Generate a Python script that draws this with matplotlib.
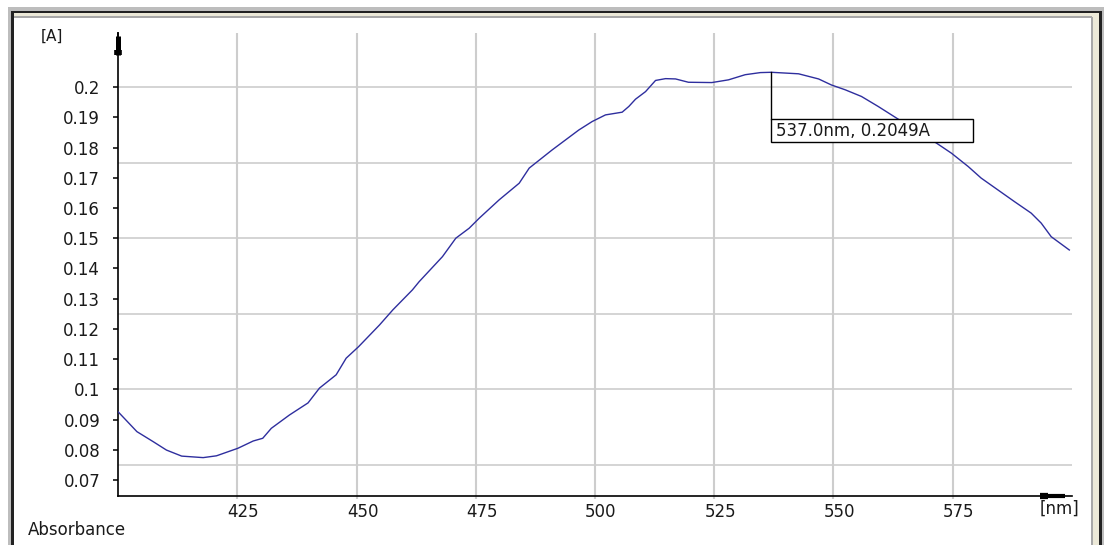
import matplotlib
matplotlib.use('Agg')
import matplotlib.pyplot as plt
from matplotlib.patches import Rectangle
from matplotlib.transforms import ScaledTranslation
from matplotlib.ticker import FixedLocator, MultipleLocator

# dados do espectro
comprimento_onda = [400.0, 403.9, 407.3, 410.1, 413.3, 417.8, 420.6, 425.1, 428.3, 430.3,
                    432.1, 435.9, 439.8, 442.2, 445.7, 447.8, 450.4, 454.8, 457.6, 461.7,
                    463.1, 468.0, 470.8, 473.6, 475.7, 479.9, 484.1, 486.2, 491.0, 496.6,
                    499.4, 502.2, 505.7, 507.1, 508.5, 510.6, 512.7, 514.8, 516.9, 519.6,
                    524.5, 528.0, 531.5, 534.7, 537.0, 542.7, 546.9, 549.6, 552.5, 555.9,
                    559.4, 562.2, 567.0, 571.6, 574.8, 578.3, 581.0, 584.5, 588.0, 591.5,
                    593.6, 595.7, 599.5]
absorbancia = [0.0925, 0.0860, 0.0827, 0.0799, 0.0779, 0.0774, 0.0780, 0.0805, 0.0829, 0.0838,
               0.0871, 0.0915, 0.0955, 0.1004, 0.1048, 0.1103, 0.1141, 0.1213, 0.1263, 0.1329,
               0.1356, 0.1439, 0.1500, 0.1533, 0.1566, 0.1627, 0.1682, 0.1732, 0.1792, 0.1858,
               0.1886, 0.1908, 0.1917, 0.1936, 0.1960, 0.1985, 0.2022, 0.2028, 0.2027, 0.2016,
               0.2015, 0.2024, 0.2041, 0.2048, 0.2049, 0.2044, 0.2027, 0.2007, 0.1991, 0.1969,
               0.1936, 0.1908, 0.1860, 0.1815, 0.1781, 0.1737, 0.1699, 0.1660, 0.1621, 0.1583,
               0.1550, 0.1505, 0.1461]

x_ticks = [425, 450, 475, 500, 525, 550, 575]
y_ticks = [0.07, 0.08, 0.09, 0.10, 0.11, 0.12, 0.13, 0.14, 0.15, 0.16, 0.17, 0.18, 0.19, 0.20]
y_tick_labels = ['0.07', '0.08', '0.09', '0.1', '0.11', '0.12', '0.13', '0.14', '0.15',
                 '0.16', '0.17', '0.18', '0.19', '0.2']

pico_nm = 537.0
pico_abs = 0.2049
texto_pico = '537.0nm, 0.2049A'

W, H = 1104, 545
cor_texto = '#1a1a1a'
cor_grade = '#cdcdcd'
fonte = 12

def fx(px):
    return px / W

def fy(py):
    return 1 - py / H

fig = plt.figure(figsize=(W / 100, H / 100), dpi=100)
fig.patch.set_facecolor('white')

# moldura da janela
def faixa(x0, y0, x1, y1, cor):
    fig.add_artist(Rectangle((fx(x0), fy(y1)), fx(x1) - fx(x0), fy(y0) - fy(y1),
                             transform=fig.transFigure, facecolor=cor, edgecolor='none'))

faixa(8, 7, W, 10.5, '#bdbdbd')
faixa(8, 7, 11, H, '#bdbdbd')
faixa(11, 10.5, 1102, 13, '#222222')
faixa(11, 10.5, 14, H, '#222222')
faixa(14, 13, 1099, 16.5, '#ece9d8')
faixa(14, 16.5, 1092, 17.5, '#a8a8a8')
faixa(1091, 16.5, 1092.5, H, '#a8a8a8')
faixa(1092.5, 13, 1099, H, '#ece9d8')
faixa(1099, 10.5, 1102, H, '#222222')
faixa(1102, 7, W, H, '#bdbdbd')

ax = fig.add_axes([fx(118.3), fy(495.7), fx(1071.7) - fx(118.3), fy(33) - fy(495.7)])
ax.set_facecolor('white')
ax.set_xlim(400, 600)
ax.set_ylim(0.0648, 0.2179)

ax.plot(comprimento_onda, absorbancia, color='#2e2e9e', linewidth=1.0, zorder=3)

# grade
ax.xaxis.set_major_locator(FixedLocator(x_ticks))
ax.set_xticklabels([str(v) for v in x_ticks])
ax.yaxis.set_major_locator(FixedLocator(y_ticks))
ax.set_yticklabels(y_tick_labels)
ax.yaxis.set_minor_locator(MultipleLocator(0.025))
ax.yaxis.remove_overlapping_locs = False
ax.grid(True, axis='x', which='major', color=cor_grade, linewidth=1.5)
ax.grid(True, axis='y', which='minor', color=cor_grade, linewidth=1.2)
ax.set_axisbelow(True)

for lado in ['top', 'right']:
    ax.spines[lado].set_visible(False)
for lado in ['left', 'bottom']:
    ax.spines[lado].set_color('black')
    ax.spines[lado].set_linewidth(1.2)

ax.tick_params(axis='y', which='major', direction='out', length=3.6, width=1.1,
               color='black', pad=9.4, labelsize=fonte, labelcolor=cor_texto)
ax.tick_params(axis='y', which='minor', length=0)
ax.tick_params(axis='x', which='major', direction='out', length=2, width=1.5,
               color=cor_grade, pad=3.5, labelsize=fonte, labelcolor=cor_texto)

desloca = ScaledTranslation(6 / 100, 0, fig.dpi_scale_trans)
for rotulo in ax.get_xticklabels():
    rotulo.set_transform(rotulo.get_transform() + desloca)

# setas dos eixos
ax.plot([0, 0], [0.9525, 0.9935], transform=ax.transAxes, color='black',
        linewidth=3.6, solid_capstyle='butt', clip_on=False)
ax.plot([0, 0], [0.9525, 0.9625], transform=ax.transAxes, color='black',
        linewidth=5.5, solid_capstyle='butt', clip_on=False)
ax.plot([0, 0], [0.9935, 1.0], transform=ax.transAxes, color='black',
        linewidth=1.2, clip_on=False)
ax.plot([0.9668, 0.9930], [0, 0], transform=ax.transAxes, color='black',
        linewidth=3.0, solid_capstyle='butt', clip_on=False)
ax.plot([0.9668, 0.9750], [0, 0], transform=ax.transAxes, color='black',
        linewidth=4.5, solid_capstyle='butt', clip_on=False)

# marcador do pico
base = fig.dpi_scale_trans + ScaledTranslation(pico_nm, pico_abs, ax.transData)
ax.plot([0, 0], [0, -0.47], transform=base, color='black', linewidth=1.0, zorder=4)
ax.add_patch(Rectangle((0, -0.47 - 0.227), 2.02, 0.227, transform=base,
                       facecolor='white', edgecolor='black', linewidth=1.0, zorder=5))
ax.text(0.05, -0.47 - 0.1135, texto_pico, transform=base, fontsize=fonte,
        color=cor_texto, ha='left', va='center', zorder=6)

# rotulos
fig.text(fx(41), fy(36), '[A]', fontsize=fonte - 1, color=cor_texto, ha='left', va='center')
fig.text(fx(28), fy(530), 'Absorbance', fontsize=fonte, color=cor_texto, ha='left', va='center')
fig.text(fx(1040), fy(509), '[nm]', fontsize=fonte, color=cor_texto, ha='left', va='center')

plt.savefig('out.png', dpi=100)
